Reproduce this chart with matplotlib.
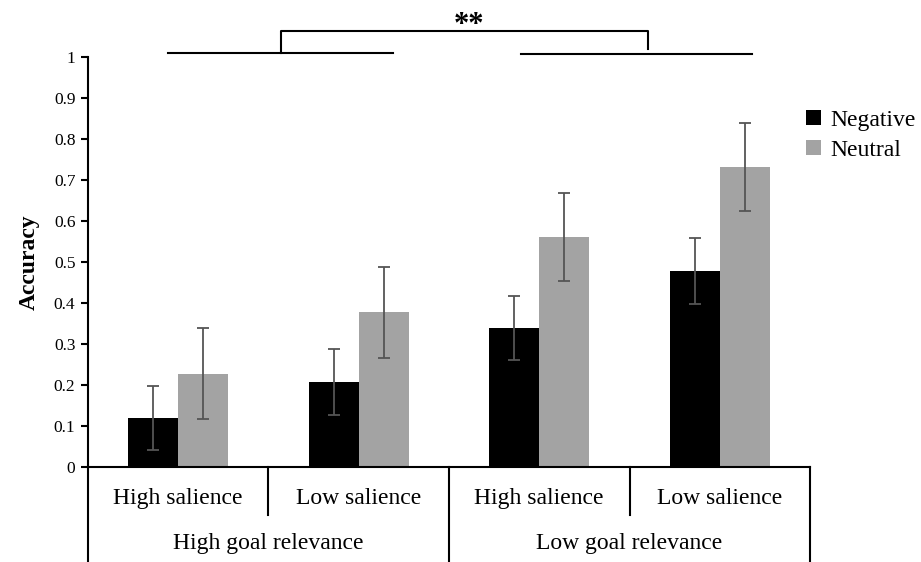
import numpy as np
import matplotlib
matplotlib.use('Agg')
import matplotlib.pyplot as plt
import matplotlib.transforms as mtransforms

# data
salience = ['High salience', 'Low salience', 'High salience', 'Low salience']
relevance = ['High goal relevance', 'Low goal relevance']
negative = [0.12, 0.207, 0.339, 0.478]
neutral = [0.227, 0.378, 0.561, 0.732]
negative_err = [0.078, 0.08, 0.079, 0.08]
neutral_err = [0.111, 0.111, 0.107, 0.108]
yticks = [0, 0.1, 0.2, 0.3, 0.4, 0.5, 0.6, 0.7, 0.8, 0.9, 1]
ytick_labels = ['0', '0.1', '0.2', '0.3', '0.4', '0.5', '0.6', '0.7', '0.8', '0.9', '1']

plt.rcParams['font.family'] = ['Liberation Serif', 'DejaVu Serif']

fig = plt.figure(figsize=(9.21, 5.62), dpi=100)
ax = fig.add_axes([0.0955, 0.169, 0.784, 0.7296])

x = np.arange(len(salience))
w = 0.278
ax.bar(x - w / 2, negative, w, color='black', label='Negative')
ax.bar(x + w / 2, neutral, w, color='#a3a3a3', label='Neutral')
ax.errorbar(x - w / 2, negative, yerr=negative_err, fmt='none', ecolor='#555555',
            elinewidth=1.3, capsize=4, capthick=1.3)
ax.errorbar(x + w / 2, neutral, yerr=neutral_err, fmt='none', ecolor='#555555',
            elinewidth=1.3, capsize=4, capthick=1.3)

ax.set_xlim(-0.5, 3.5)
ax.set_ylim(0, 1)
ax.set_yticks(yticks)
ax.set_yticklabels(ytick_labels, fontsize=12.5)
ax.set_xticks([])
for s in ['top', 'right']:
    ax.spines[s].set_visible(False)
ax.spines['left'].set_linewidth(1.5)
ax.spines['bottom'].set_linewidth(1.5)
ax.tick_params(axis='y', direction='out', length=5, width=1.5, pad=4)
ax.set_ylabel('Accuracy', fontsize=17, fontweight='bold', labelpad=10)

# category table below the axis
trans = mtransforms.blended_transform_factory(ax.transData, ax.transAxes)
for xb in [0.5, 2.5]:
    ax.plot([xb, xb], [0, -0.117], color='black', lw=1.5, transform=trans, clip_on=False)
for xb in [-0.5, 1.5, 3.5]:
    ax.plot([xb, xb], [0, -0.25], color='black', lw=1.5, transform=trans, clip_on=False)
for i, lab in enumerate(salience):
    ax.text(i, -0.076, lab, transform=trans, ha='center', va='center', fontsize=17)
for i, lab in enumerate(relevance):
    ax.text(0.5 + 2 * i, -0.186, lab, transform=trans, ha='center', va='center', fontsize=17)

# significance bracket
lk = dict(color='black', lw=1.5, clip_on=False)
ax.plot([-0.056, 1.19], [1.01, 1.01], **lk)
ax.plot([1.9, 3.18], [1.007, 1.007], **lk)
ax.plot([0.57, 0.57, 2.6, 2.6], [1.01, 1.063, 1.063, 1.02], **lk)
ax.text(1.61, 1.078, '**', ha='center', va='center', fontsize=22, fontweight='bold')

ax.legend(loc='upper left', bbox_to_anchor=(0.995, 0.87), frameon=False, fontsize=17,
          handlelength=0.6, handleheight=0.6, handletextpad=0.4, labelspacing=0.35,
          borderpad=0, borderaxespad=0)

fig.savefig('out.png', dpi=100)
